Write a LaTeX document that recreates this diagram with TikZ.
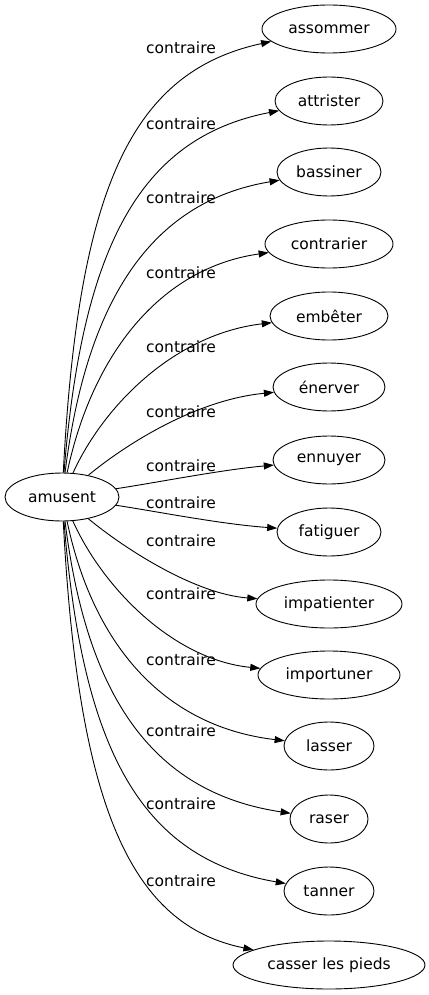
\documentclass[tikz,border=0pt]{standalone}
\usepackage{fontspec}
\setmainfont{DejaVu Sans}
\usetikzlibrary{shapes.geometric,arrows.meta}
\begin{document}
\begin{tikzpicture}[x=1pt,y=-1pt,
  nd/.style={ellipse, draw, line width=0.9pt, inner sep=0pt, minimum height=48pt, font=\fontsize{15.5}{18}\selectfont},
  lab/.style={font=\fontsize{15.5}{18}\selectfont, inner sep=0pt},
  edgeline/.style={-{Triangle[length=10pt,width=7pt]}, line width=0.9pt}]
\useasboundingbox (0,0) rectangle (428,995);
\node[nd, minimum width=114pt] (a) at (62,497) {amusent};
\node[nd, minimum width=134pt] (n1) at (329,29) {assommer};
\node[nd, minimum width=108pt] (n2) at (329,101) {attrister};
\node[nd, minimum width=104pt] (n3) at (329,172) {bassiner};
\node[nd, minimum width=128pt] (n4) at (329,244) {contrarier};
\node[nd, minimum width=118pt] (n5) at (329,316) {embêter};
\node[nd, minimum width=112pt] (n6) at (329,387) {énerver};
\node[nd, minimum width=112pt] (n7) at (329,460) {ennuyer};
\node[nd, minimum width=104pt] (n8) at (329,532) {fatiguer};
\node[nd, minimum width=146pt] (n9) at (329,604) {impatienter};
\node[nd, minimum width=142pt] (n10) at (329,675) {importuner};
\node[nd, minimum width=90pt] (n11) at (329,746) {lasser};
\node[nd, minimum width=78pt] (n12) at (329,819) {raser};
\node[nd, minimum width=90pt] (n13) at (329,891) {tanner};
\node[nd, minimum width=192pt] (n14) at (329,965) {casser les pieds};
\draw[edgeline] (a) .. controls (78,191) and (130,72) .. (n1);
\draw[edgeline] (a) .. controls (82,250) and (138,138) .. (n2);
\draw[edgeline] (a) .. controls (86,305) and (148,202) .. (n3);
\draw[edgeline] (a) .. controls (92,355) and (160,268) .. (n4);
\draw[edgeline] (a) .. controls (104,405) and (175,334) .. (n5);
\draw[edgeline] (a) .. controls (125,445) and (195,400) .. (n6);
\draw[edgeline] (a) .. controls (160,482) and (220,470) .. (n7);
\draw[edgeline] (a) .. controls (160,512) and (220,524) .. (n8);
\draw[edgeline] (a) .. controls (125,549) and (195,594) .. (n9);
\draw[edgeline] (a) .. controls (104,590) and (175,660) .. (n10);
\draw[edgeline] (a) .. controls (92,640) and (160,726) .. (n11);
\draw[edgeline] (a) .. controls (86,690) and (148,792) .. (n12);
\draw[edgeline] (a) .. controls (82,745) and (138,858) .. (n13);
\draw[edgeline] (a) .. controls (78,805) and (130,925) .. (n14);
\node[lab] (l1) at (181,48) {contraire};
\node[lab] (l2) at (181,124) {contraire};
\node[lab] (l3) at (181,198) {contraire};
\node[lab] (l4) at (181,273) {contraire};
\node[lab] (l5) at (181,347) {contraire};
\node[lab] (l6) at (181,412) {contraire};
\node[lab] (l7) at (181,466) {contraire};
\node[lab] (l8) at (181,503) {contraire};
\node[lab] (l9) at (181,541) {contraire};
\node[lab] (l10) at (181,594) {contraire};
\node[lab] (l11) at (181,660) {contraire};
\node[lab] (l12) at (181,731) {contraire};
\node[lab] (l13) at (181,804) {contraire};
\node[lab] (l14) at (181,881) {contraire};
\end{tikzpicture}
\end{document}
